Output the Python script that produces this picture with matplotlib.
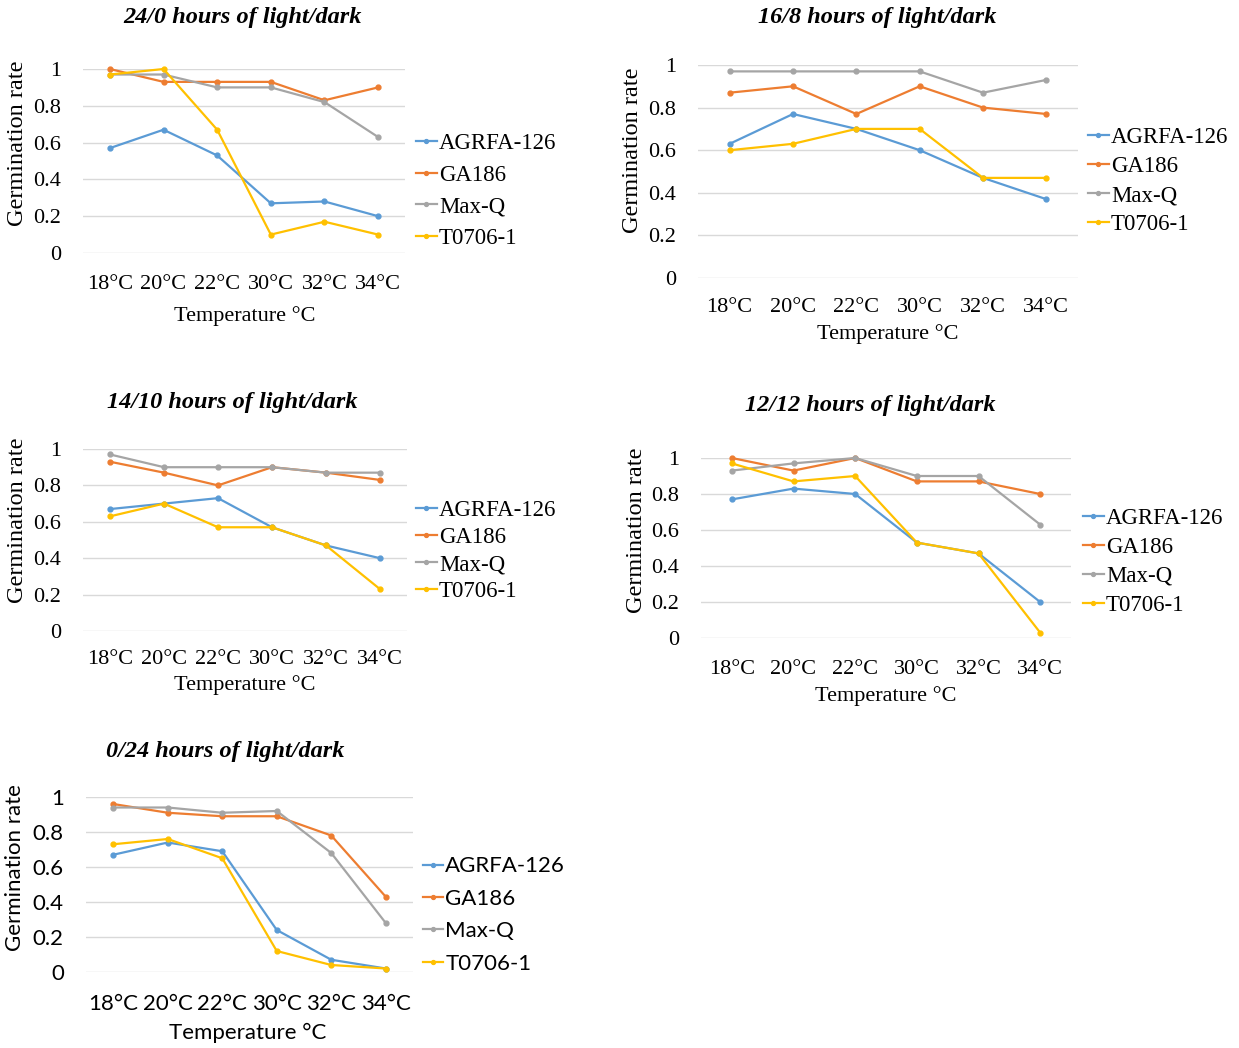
import matplotlib
matplotlib.use("Agg")
import matplotlib.pyplot as plt

# temperatures and cultivars shared by all five panels
temps = ['18°C', '20°C', '22°C', '30°C', '32°C', '34°C']
cultivars = ['AGRFA-126', 'GA186', 'Max-Q', 'T0706-1']
colors = ['#5B9BD5', '#ED7D31', '#A5A5A5', '#FFC000']

# germination rate, one list per cultivar (order as in cultivars)
light_24_0 = [
    [0.57, 0.67, 0.53, 0.27, 0.28, 0.20],
    [1.00, 0.93, 0.93, 0.93, 0.83, 0.90],
    [0.97, 0.97, 0.90, 0.90, 0.82, 0.63],
    [0.97, 1.00, 0.67, 0.10, 0.17, 0.10],
]
light_16_8 = [
    [0.63, 0.77, 0.70, 0.60, 0.47, 0.37],
    [0.87, 0.90, 0.77, 0.90, 0.80, 0.77],
    [0.97, 0.97, 0.97, 0.97, 0.87, 0.93],
    [0.60, 0.63, 0.70, 0.70, 0.47, 0.47],
]
light_14_10 = [
    [0.67, 0.70, 0.73, 0.57, 0.47, 0.40],
    [0.93, 0.87, 0.80, 0.90, 0.87, 0.83],
    [0.97, 0.90, 0.90, 0.90, 0.87, 0.87],
    [0.63, 0.70, 0.57, 0.57, 0.47, 0.23],
]
light_12_12 = [
    [0.77, 0.83, 0.80, 0.53, 0.47, 0.20],
    [1.00, 0.93, 1.00, 0.87, 0.87, 0.80],
    [0.93, 0.97, 1.00, 0.90, 0.90, 0.63],
    [0.97, 0.87, 0.90, 0.53, 0.47, 0.03],
]
light_0_24 = [
    [0.67, 0.74, 0.69, 0.24, 0.07, 0.02],
    [0.96, 0.91, 0.89, 0.89, 0.78, 0.43],
    [0.94, 0.94, 0.91, 0.92, 0.68, 0.28],
    [0.73, 0.76, 0.65, 0.12, 0.04, 0.02],
]

W, H = 1239, 1048
fig = plt.figure(figsize=(W / 100, H / 100), dpi=100)

SERIF = ['Liberation Serif', 'DejaVu Serif']
SANS = ['Lato', 'Open Sans', 'DejaVu Sans']
FS = 16


def px(x, y):
    return x / W, 1 - y / H


# panel: data, title, axes box (left, top, right, bottom in px), title pos,
# ylabel pos, xlabel pos, legend anchor (x, center y), legend spacing,
# legend size, x tick pad, ylabel size, font
panels = [
    (light_24_0, '24/0 hours of light/dark', (83, 69, 405, 253), (242, 18),
     (18, 143), (245, 316), (416, 191), 0.45, 16.5, 16, 17.5, SERIF),
    (light_16_8, '16/8 hours of light/dark', (698, 65, 1078, 278), (877, 18),
     (633, 150), (888, 334), (1088, 181), 0.36, 16.5, 14.5, 17.5, SERIF),
    (light_14_10, '14/10 hours of light/dark', (83, 449, 407, 631), (232, 402),
     (18, 520), (245, 685), (416, 551), 0.27, 16.5, 14, 17.5, SERIF),
    (light_12_12, '12/12 hours of light/dark', (701, 458, 1071, 638), (870, 406),
     (636, 530), (886, 696), (1083, 562), 0.34, 16.5, 16, 17.5, SERIF),
    (light_0_24, '0/24 hours of light/dark', (86, 797, 413, 972), (225, 751),
     (15, 868), (248, 1033), (423, 915), 0.56, 16, 15.5, 16, SANS),
]

for data, title, box, tpos, ypos, xpos, lpos, lsp, lfs, xpad, yfs, fam in panels:
    l, t, r, b = box
    ax = fig.add_axes([l / W, 1 - b / H, (r - l) / W, (b - t) / H])
    for vals, name, c in zip(data, cultivars, colors):
        ax.plot(range(len(temps)), vals, color=c, lw=1.6, marker='o',
                markersize=3.5, label=name, clip_on=False, zorder=3)
    ax.set_xlim(-0.5, len(temps) - 0.5)
    ax.set_ylim(0, 1)
    ax.set_yticks([0, 0.2, 0.4, 0.6, 0.8, 1])
    ax.set_yticklabels(['0', '0.2', '0.4', '0.6', '0.8', '1'], family=fam, fontsize=FS)
    ax.set_xticks(range(len(temps)))
    ax.set_xticklabels(temps, family=fam, fontsize=FS)
    ax.tick_params(length=0, axis='y', pad=16)
    ax.tick_params(length=0, axis='x', pad=xpad)
    ax.grid(axis='y', color='#D9D9D9', lw=1)
    ax.set_axisbelow(True)
    for s in ax.spines.values():
        s.set_visible(False)

    fig.text(*px(*tpos), title, ha='center', va='center', fontsize=17.5,
             family=SERIF, weight='bold', style='italic')
    fig.text(*px(*ypos), 'Germination rate', ha='center', va='center',
             rotation=90, fontsize=yfs, family=fam)
    fig.text(*px(*xpos), 'Temperature °C', ha='center', va='center',
             fontsize=FS, family=fam)
    ax.legend(loc='center left', bbox_to_anchor=px(*lpos),
              bbox_transform=fig.transFigure, frameon=False,
              prop={'family': fam, 'size': lfs}, handlelength=0.9,
              handletextpad=0.1, labelspacing=lsp, borderpad=0,
              borderaxespad=0, markerscale=0.8)

fig.savefig('out.png', dpi=100, facecolor='white')
